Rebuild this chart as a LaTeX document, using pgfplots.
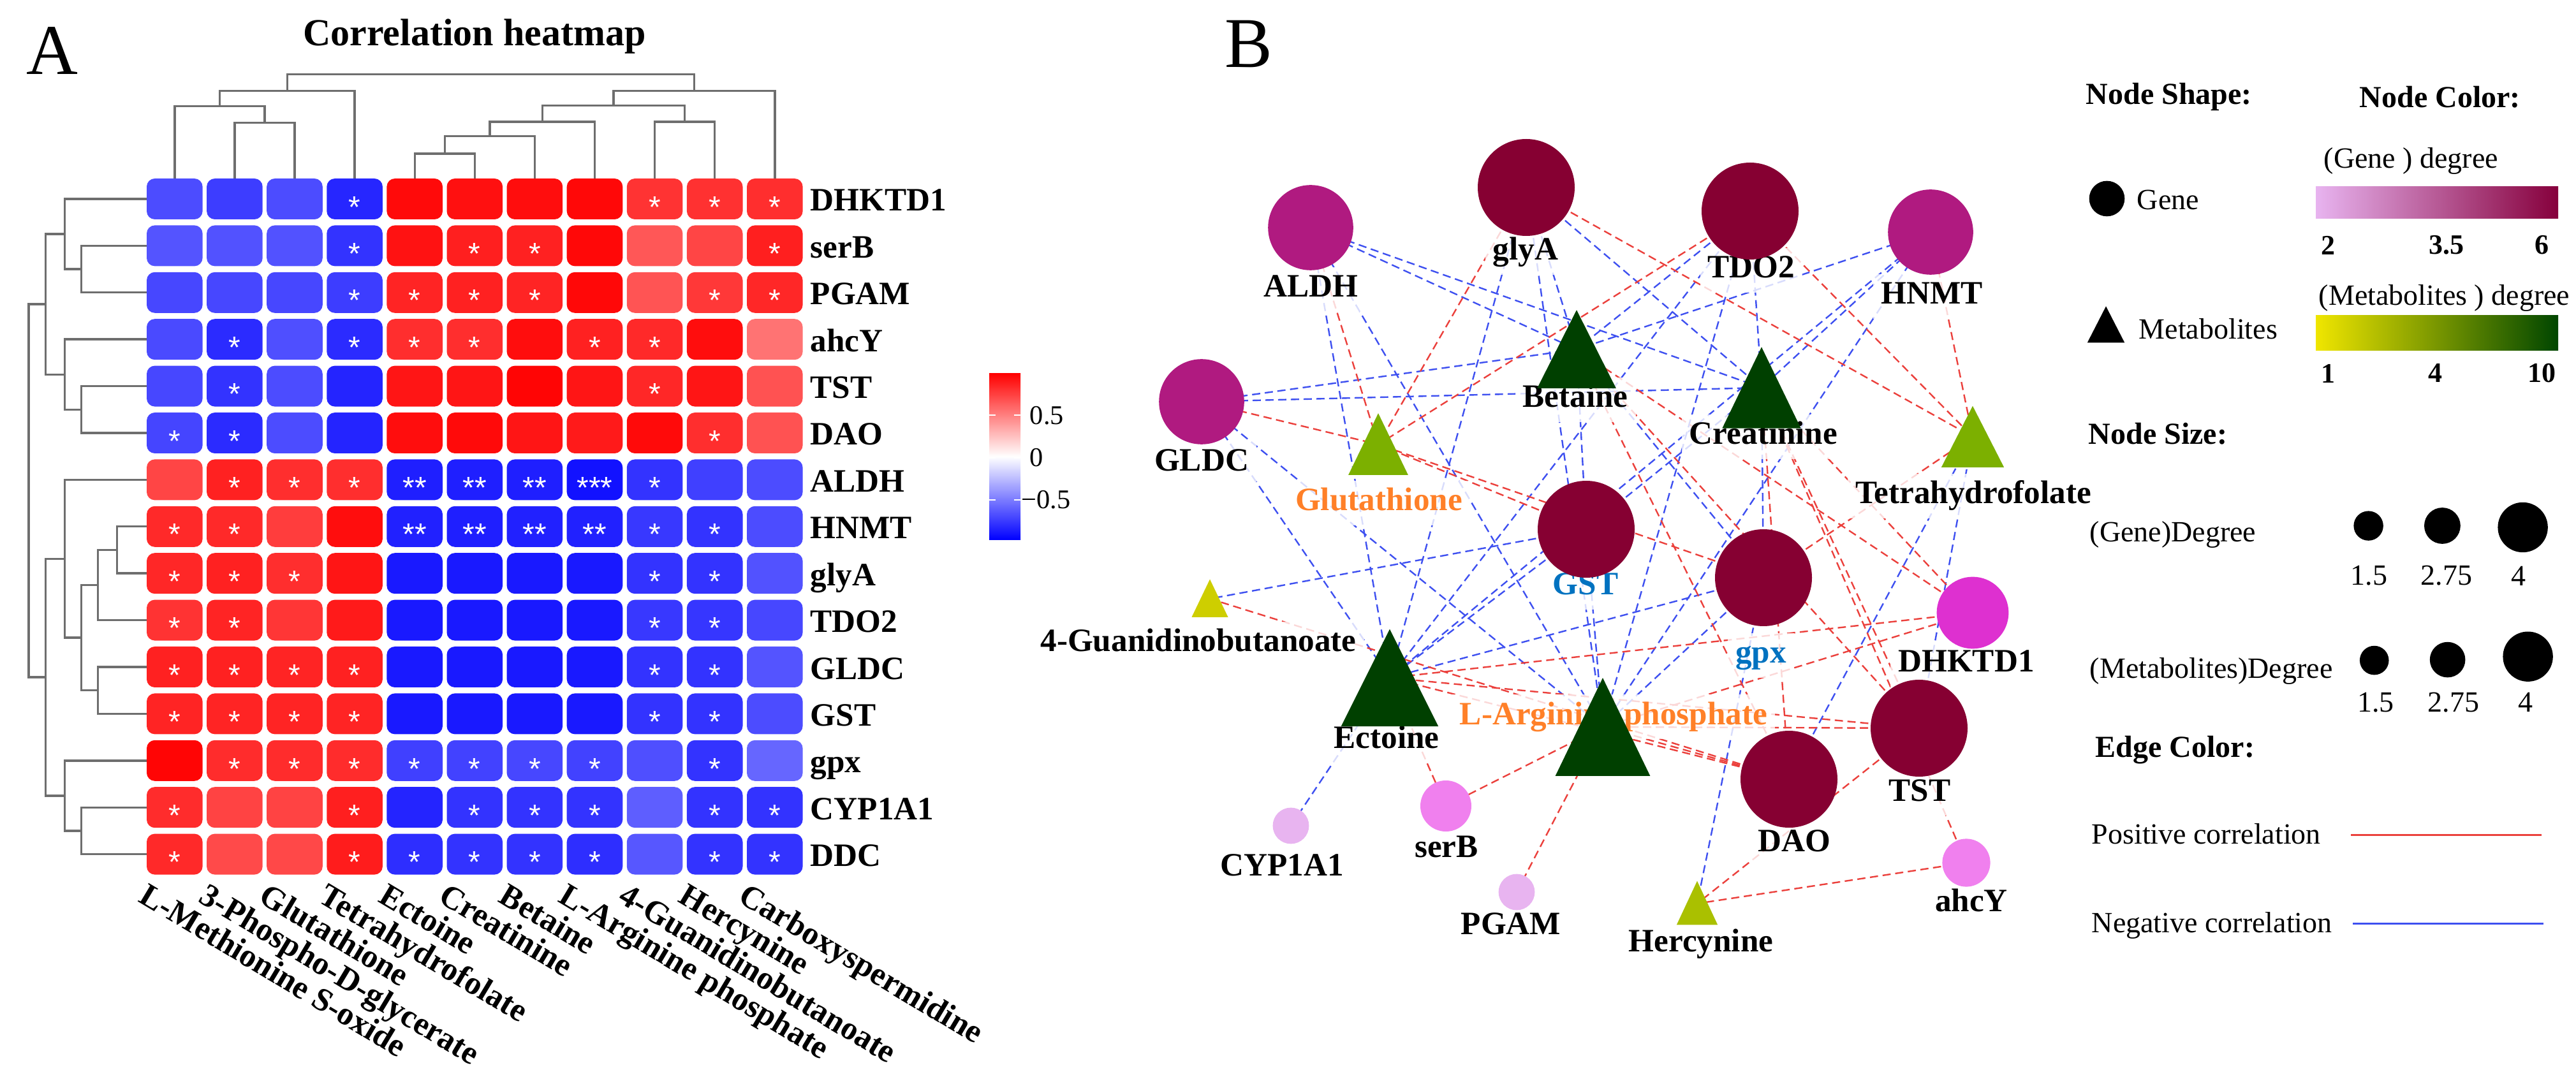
\documentclass[border=0pt]{standalone}
\usepackage{fontspec}
\setmainfont{Liberation Serif}
\newfontfamily\starfont{Liberation Sans}
\usepackage{pgfplots}
\usepackage{pgfplotstable}
\pgfplotsset{compat=1.18}

\pgfdeclareplotmark{nothing}{}

\definecolor{dendro}{RGB}{110,110,110}
\definecolor{wine}{RGB}{134,0,50}
\definecolor{plum}{RGB}{176,26,128}
\definecolor{gmag}{RGB}{222,48,208}
\definecolor{gpink}{RGB}{240,128,238}
\definecolor{lpink}{RGB}{232,180,240}
\definecolor{dgreen}{RGB}{0,64,0}
\definecolor{mgreen}{RGB}{124,176,0}
\definecolor{ygreen}{RGB}{170,192,0}
\definecolor{ylw}{RGB}{206,206,0}
\definecolor{ered}{RGB}{235,64,60}
\definecolor{eblue}{RGB}{62,80,240}
\definecolor{lorange}{RGB}{255,128,40}
\definecolor{lblue}{RGB}{0,114,192}

\newcommand\hmlab{\fontsize{12.8}{14}\selectfont\bfseries}
\newcommand\lgtxt{\fontsize{11.5}{13}\selectfont}
\newcommand\lghead{\fontsize{12}{14}\selectfont\bfseries}

\pgfplotsset{
  cell/.style={scatter, only marks, mark=nothing, point meta=explicit,
    scatter/@pre marker code/.code={%
      \pgfplotscolormapdefinemappedcolor{\pgfplotspointmetatransformed}%
      \fill[mapped color, rounded corners=3pt] (-10.75pt,-7.8pt) rectangle (10.75pt,7.8pt);},
    scatter/@post marker code/.code={}},
  dend/.style={dendro, line width=0.85pt, mark=none},
  pe/.style={ered, line width=0.6pt, dash pattern=on 3.2pt off 1.8pt, mark=none},
  ne/.style={eblue, line width=0.6pt, dash pattern=on 3.2pt off 1.8pt, mark=none},
}
\tikzset{
  nl/.style={font=\hmlab, fill=white, fill opacity=0.8, text opacity=1,
    inner sep=3pt, text height=8.8pt, text depth=2.8pt},
  cl/.style={rotate=-31, anchor=north west, font=\hmlab, inner sep=0pt},
}

% correlation matrix: rows = genes (DHKTD1 ... DDC), columns = metabolites
\pgfplotstableread{
r  c1    c2    c3    c4    c5    c6    c7    c8    c9    c10   c11
1  -0.70 -0.76 -0.70 -0.85  0.96  0.94  0.95  0.97  0.80  0.81  0.82
2  -0.67 -0.68 -0.68 -0.80  0.93  0.88  0.87  0.97  0.66  0.73  0.88
3  -0.72 -0.72 -0.72 -0.76  0.86  0.87  0.86  0.97  0.67  0.78  0.85
4  -0.71 -0.83 -0.69 -0.83  0.82  0.82  0.95  0.87  0.84  0.95  0.55
5  -0.72 -0.80 -0.70 -0.86  0.92  0.92  0.98  0.92  0.85  0.92  0.68
6  -0.73 -0.83 -0.70 -0.86  0.95  0.96  0.92  0.90  0.96  0.82  0.68
7   0.73  0.87  0.82  0.82 -0.88 -0.88 -0.88 -0.93 -0.80 -0.75 -0.70
8   0.84  0.84  0.76  0.95 -0.87 -0.88 -0.87 -0.87 -0.78 -0.80 -0.70
9   0.85  0.87  0.82  0.92 -0.90 -0.90 -0.90 -0.90 -0.80 -0.80 -0.68
10  0.80  0.86  0.79  0.90 -0.90 -0.90 -0.90 -0.90 -0.78 -0.79 -0.72
11  0.87  0.87  0.86  0.87 -0.90 -0.90 -0.90 -0.90 -0.80 -0.80 -0.67
12  0.86  0.86  0.86  0.86 -0.90 -0.90 -0.90 -0.90 -0.80 -0.80 -0.70
13  0.98  0.83  0.83  0.83 -0.75 -0.74 -0.72 -0.74 -0.69 -0.80 -0.60
14  0.83  0.74  0.74  0.88 -0.86 -0.80 -0.80 -0.80 -0.63 -0.80 -0.80
15  0.84  0.71  0.72  0.89 -0.82 -0.80 -0.80 -0.82 -0.66 -0.80 -0.80
}\hm

\pgfplotstableread{
r c s
1 4 *
1 9 *
1 10 *
1 11 *
2 4 *
2 6 *
2 7 *
2 11 *
3 4 *
3 5 *
3 6 *
3 7 *
3 10 *
3 11 *
4 2 *
4 4 *
4 5 *
4 6 *
4 8 *
4 9 *
5 2 *
5 9 *
6 1 *
6 2 *
6 10 *
7 2 *
7 3 *
7 4 *
7 5 **
7 6 **
7 7 **
7 8 ***
7 9 *
8 1 *
8 2 *
8 5 **
8 6 **
8 7 **
8 8 **
8 9 *
8 10 *
9 1 *
9 2 *
9 3 *
9 9 *
9 10 *
10 1 *
10 2 *
10 9 *
10 10 *
11 1 *
11 2 *
11 3 *
11 4 *
11 9 *
11 10 *
12 1 *
12 2 *
12 3 *
12 4 *
12 9 *
12 10 *
13 2 *
13 3 *
13 4 *
13 5 *
13 6 *
13 7 *
13 8 *
13 10 *
14 1 *
14 4 *
14 6 *
14 7 *
14 8 *
14 10 *
14 11 *
15 1 *
15 4 *
15 5 *
15 6 *
15 7 *
15 8 *
15 10 *
15 11 *
}\stars

\begin{document}
\begin{tikzpicture}
\begin{axis}[
  at={(0,0)}, anchor=south west,
  width=1009.75pt, height=425pt, scale only axis,
  xmin=0, xmax=4039, ymin=0, ymax=1700, y dir=reverse,
  hide axis, clip=false,
  colormap={bwr}{rgb255=(0,0,255) rgb255=(255,255,255) rgb255=(255,0,0)},
  point meta min=-1, point meta max=1,
]

% ---------------- panel A: heatmap cells ----------------
\addplot[cell] table[x expr=273.8,  y expr={312+73.4*(\thisrow{r}-1)}, meta=c1]  {\hm};
\addplot[cell] table[x expr=367.9,  y expr={312+73.4*(\thisrow{r}-1)}, meta=c2]  {\hm};
\addplot[cell] table[x expr=462.0,  y expr={312+73.4*(\thisrow{r}-1)}, meta=c3]  {\hm};
\addplot[cell] table[x expr=556.1,  y expr={312+73.4*(\thisrow{r}-1)}, meta=c4]  {\hm};
\addplot[cell] table[x expr=650.2,  y expr={312+73.4*(\thisrow{r}-1)}, meta=c5]  {\hm};
\addplot[cell] table[x expr=744.3,  y expr={312+73.4*(\thisrow{r}-1)}, meta=c6]  {\hm};
\addplot[cell] table[x expr=838.4,  y expr={312+73.4*(\thisrow{r}-1)}, meta=c7]  {\hm};
\addplot[cell] table[x expr=932.5,  y expr={312+73.4*(\thisrow{r}-1)}, meta=c8]  {\hm};
\addplot[cell] table[x expr=1026.6, y expr={312+73.4*(\thisrow{r}-1)}, meta=c9]  {\hm};
\addplot[cell] table[x expr=1120.7, y expr={312+73.4*(\thisrow{r}-1)}, meta=c10] {\hm};
\addplot[cell] table[x expr=1214.8, y expr={312+73.4*(\thisrow{r}-1)}, meta=c11] {\hm};

% significance stars
\addplot[only marks, mark=nothing, point meta=explicit symbolic, nodes near coords,
  nodes near coords style={anchor=base, text=white, font=\starfont\fontsize{12}{12}\selectfont,
    inner sep=0pt, yshift=-7.3pt}]
  table[x expr={273.8+94.1*(\thisrow{c}-1)}, y expr={312+73.4*(\thisrow{r}-1)}, meta=s] {\stars};

% column dendrogram
\addplot[dend] coordinates {(367.9,280.7) (367.9,192.3) (462.0,192.3) (462.0,280.7)};
\addplot[dend] coordinates {(273.8,280.7) (273.8,166.5) (415.0,166.5) (415.0,192.3)};
\addplot[dend] coordinates {(344.4,166.5) (344.4,142.4) (556.1,142.4) (556.1,280.7)};
\addplot[dend] coordinates {(650.2,280.7) (650.2,241.1) (744.3,241.1) (744.3,280.7)};
\addplot[dend] coordinates {(697.3,241.1) (697.3,213.6) (838.4,213.6) (838.4,280.7)};
\addplot[dend] coordinates {(767.8,213.6) (767.8,191.2) (932.5,191.2) (932.5,280.7)};
\addplot[dend] coordinates {(1026.6,280.7) (1026.6,191.2) (1120.7,191.2) (1120.7,280.7)};
\addplot[dend] coordinates {(850.2,191.2) (850.2,165.3) (1073.7,165.3) (1073.7,191.2)};
\addplot[dend] coordinates {(961.9,165.3) (961.9,142.4) (1214.8,142.4) (1214.8,280.7)};
\addplot[dend] coordinates {(450.3,142.4) (450.3,116.5) (1088.4,116.5) (1088.4,142.4)};

% row dendrogram
\addplot[dend] coordinates {(230.7,385.4) (127.4,385.4) (127.4,458.8) (230.7,458.8)};
\addplot[dend] coordinates {(230.7,312.0) (101.6,312.0) (101.6,422.1) (127.4,422.1)};
\addplot[dend] coordinates {(230.7,605.6) (127.4,605.6) (127.4,679.0) (230.7,679.0)};
\addplot[dend] coordinates {(230.7,532.2) (101.6,532.2) (101.6,642.3) (127.4,642.3)};
\addplot[dend] coordinates {(101.6,367.1) (71.5,367.1) (71.5,587.3) (101.6,587.3)};
\addplot[dend] coordinates {(230.7,825.8) (183.4,825.8) (183.4,899.2) (230.7,899.2)};
\addplot[dend] coordinates {(183.4,862.5) (153.2,862.5) (153.2,972.6) (230.7,972.6)};
\addplot[dend] coordinates {(230.7,1046.0) (153.2,1046.0) (153.2,1119.4) (230.7,1119.4)};
\addplot[dend] coordinates {(153.2,917.6) (127.4,917.6) (127.4,1082.7) (153.2,1082.7)};
\addplot[dend] coordinates {(230.7,752.4) (101.6,752.4) (101.6,1000.1) (127.4,1000.1)};
\addplot[dend] coordinates {(230.7,1266.2) (127.4,1266.2) (127.4,1339.6) (230.7,1339.6)};
\addplot[dend] coordinates {(230.7,1192.8) (101.6,1192.8) (101.6,1302.9) (127.4,1302.9)};
\addplot[dend] coordinates {(101.6,876.3) (71.5,876.3) (71.5,1247.9) (101.6,1247.9)};
\addplot[dend] coordinates {(71.5,477.2) (44.8,477.2) (44.8,1062.1) (71.5,1062.1)};

% row labels
\node[anchor=base west, font=\hmlab, inner sep=0pt] at (axis cs:1270,331.0)  {DHKTD1};
\node[anchor=base west, font=\hmlab, inner sep=0pt] at (axis cs:1270,404.4)  {serB};
\node[anchor=base west, font=\hmlab, inner sep=0pt] at (axis cs:1270,477.8)  {PGAM};
\node[anchor=base west, font=\hmlab, inner sep=0pt] at (axis cs:1270,551.2)  {ahcY};
\node[anchor=base west, font=\hmlab, inner sep=0pt] at (axis cs:1270,624.6)  {TST};
\node[anchor=base west, font=\hmlab, inner sep=0pt] at (axis cs:1270,698.0)  {DAO};
\node[anchor=base west, font=\hmlab, inner sep=0pt] at (axis cs:1270,771.4)  {ALDH};
\node[anchor=base west, font=\hmlab, inner sep=0pt] at (axis cs:1270,844.8)  {HNMT};
\node[anchor=base west, font=\hmlab, inner sep=0pt] at (axis cs:1270,918.2)  {glyA};
\node[anchor=base west, font=\hmlab, inner sep=0pt] at (axis cs:1270,991.6)  {TDO2};
\node[anchor=base west, font=\hmlab, inner sep=0pt] at (axis cs:1270,1065.0) {GLDC};
\node[anchor=base west, font=\hmlab, inner sep=0pt] at (axis cs:1270,1138.4) {GST};
\node[anchor=base west, font=\hmlab, inner sep=0pt] at (axis cs:1270,1211.8) {gpx};
\node[anchor=base west, font=\hmlab, inner sep=0pt] at (axis cs:1270,1285.2) {CYP1A1};
\node[anchor=base west, font=\hmlab, inner sep=0pt] at (axis cs:1270,1358.6) {DDC};

% column labels
\node[cl] at (axis cs:234,1382)  {L-Methionine S-oxide};
\node[cl] at (axis cs:328,1382)  {3-Phospho-D-glycerate};
\node[cl] at (axis cs:422,1382)  {Glutathione};
\node[cl] at (axis cs:516,1382)  {Tetrahydrofolate};
\node[cl] at (axis cs:610,1382)  {Ectoine};
\node[cl] at (axis cs:704,1382)  {Creatinine};
\node[cl] at (axis cs:798,1382)  {Betaine};
\node[cl] at (axis cs:892,1382)  {L-Arginine phosphate};
\node[cl] at (axis cs:986,1382)  {4-Guanidinobutanoate};
\node[cl] at (axis cs:1080,1382) {Hercynine};
\node[cl] at (axis cs:1174,1382) {Carboxyspermidine};

% title and panel letters
\node[font=\fontsize{15}{17}\selectfont\bfseries] at (axis cs:744,57) {Correlation heatmap};
\node[font=\fontsize{28}{30}\selectfont] at (axis cs:82,80) {A};
\node[font=\fontsize{28}{30}\selectfont] at (axis cs:1958,69) {B};

% heatmap colour bar
\shade[top color=red, bottom color=blue, middle color=white] (axis cs:1551,585.5) rectangle (axis cs:1600,846.7);
\draw[white, line width=0.5pt] (axis cs:1551,651.5) -- (axis cs:1561,651.5) (axis cs:1590,651.5) -- (axis cs:1600,651.5);
\draw[white, line width=0.5pt] (axis cs:1551,717.6) -- (axis cs:1561,717.6) (axis cs:1590,717.6) -- (axis cs:1600,717.6);
\draw[white, line width=0.5pt] (axis cs:1551,783.6) -- (axis cs:1561,783.6) (axis cs:1590,783.6) -- (axis cs:1600,783.6);
\node[anchor=west, inner sep=0pt, font=\fontsize{10.6}{12}\selectfont] at (axis cs:1614,651.5) {0.5};
\node[anchor=west, inner sep=0pt, font=\fontsize{10.6}{12}\selectfont] at (axis cs:1614,717.6) {0};
\node[anchor=west, inner sep=0pt, font=\fontsize{10.6}{12}\selectfont] at (axis cs:1601,783.6) {−0.5};

% ---------------- panel B: network edges ----------------
% negative correlations
\addplot[ne] coordinates {(2055,357) (2472,548)};
\addplot[ne] coordinates {(2055,357) (2762,608)};
\addplot[ne] coordinates {(2055,357) (2179,1063)};
\addplot[ne] coordinates {(2055,357) (2513,1140)};
\addplot[ne] coordinates {(2393,294) (2472,548)};
\addplot[ne] coordinates {(2393,294) (2762,608)};
\addplot[ne] coordinates {(2393,294) (2179,1063)};
\addplot[ne] coordinates {(2393,294) (2513,1140)};
\addplot[ne] coordinates {(1884,630) (2472,548)};
\addplot[ne] coordinates {(1884,630) (2762,608)};
\addplot[ne] coordinates {(1884,630) (2179,1063)};
\addplot[ne] coordinates {(1884,630) (2513,1140)};
\addplot[ne] coordinates {(2744,331) (2472,548)};
\addplot[ne] coordinates {(2744,331) (2762,608)};
\addplot[ne] coordinates {(2744,331) (2179,1063)};
\addplot[ne] coordinates {(2744,331) (2513,1140)};
\addplot[ne] coordinates {(3027,364) (2472,548)};
\addplot[ne] coordinates {(3027,364) (2762,608)};
\addplot[ne] coordinates {(3027,364) (2179,1063)};
\addplot[ne] coordinates {(3027,364) (2513,1140)};
\addplot[ne] coordinates {(2487,830) (2472,548)};
\addplot[ne] coordinates {(2487,830) (2762,608)};
\addplot[ne] coordinates {(2487,830) (2179,1063)};
\addplot[ne] coordinates {(2487,830) (2513,1140)};
\addplot[ne] coordinates {(2487,830) (1897,939)};
\addplot[ne] coordinates {(2765,906) (2472,548)};
\addplot[ne] coordinates {(2765,906) (2762,608)};
\addplot[ne] coordinates {(2765,906) (2179,1063)};
\addplot[ne] coordinates {(2765,906) (2513,1140)};
\addplot[ne] coordinates {(2765,906) (2661,1417)};
\addplot[ne] coordinates {(2024,1295) (2179,1063)};
\addplot[ne] coordinates {(3009,1142) (3093,685)};
\addplot[ne] coordinates {(2805,1222) (3093,685)};
% positive correlations
\addplot[pe] coordinates {(2055,357) (2161,697)};
\addplot[pe] coordinates {(2393,294) (2161,697)};
\addplot[pe] coordinates {(1884,630) (2161,697)};
\addplot[pe] coordinates {(2744,331) (2161,697)};
\addplot[pe] coordinates {(2487,830) (2161,697)};
\addplot[pe] coordinates {(2765,906) (2161,697)};
\addplot[pe] coordinates {(2393,294) (3093,685)};
\addplot[pe] coordinates {(2744,331) (3093,685)};
\addplot[pe] coordinates {(3027,364) (3093,685)};
\addplot[pe] coordinates {(2765,906) (3093,685)};
\addplot[pe] coordinates {(3093,961) (2472,548)};
\addplot[pe] coordinates {(3093,961) (2762,608)};
\addplot[pe] coordinates {(3093,961) (2179,1063)};
\addplot[pe] coordinates {(3093,961) (2513,1140)};
\addplot[pe] coordinates {(3009,1142) (2472,548)};
\addplot[pe] coordinates {(3009,1142) (2762,608)};
\addplot[pe] coordinates {(3009,1142) (2179,1063)};
\addplot[pe] coordinates {(3009,1142) (2513,1140)};
\addplot[pe] coordinates {(3009,1142) (2661,1417)};
\addplot[pe] coordinates {(2805,1222) (2472,548)};
\addplot[pe] coordinates {(2805,1222) (2762,608)};
\addplot[pe] coordinates {(2805,1222) (2179,1063)};
\addplot[pe] coordinates {(2805,1222) (2513,1140)};
\addplot[pe] coordinates {(2805,1222) (1897,939)};
\addplot[pe] coordinates {(2267,1264) (2179,1063)};
\addplot[pe] coordinates {(2267,1264) (2513,1140)};
\addplot[pe] coordinates {(2378,1399) (2513,1140)};
\addplot[pe] coordinates {(3083,1353) (2661,1417)};
\addplot[pe] coordinates {(3083,1353) (2762,608)};

% ---------------- network nodes ----------------
% genes (circles, size ~ degree)
\addplot[only marks, mark=*, wine, mark size=18.8pt, mark options={draw=none}]
  coordinates {(2393,294) (2744,331) (2487,830) (2765,906) (3009,1142) (2805,1222)};
\addplot[only marks, mark=*, plum, mark size=16.5pt, mark options={draw=none}]
  coordinates {(2055,357) (3027,364) (1884,630)};
\addplot[only marks, mark=*, gmag, mark size=13.9pt, mark options={draw=none}] coordinates {(3093,961)};
\addplot[only marks, mark=*, gpink, mark size=9.8pt, mark options={draw=none}] coordinates {(2267,1264)};
\addplot[only marks, mark=*, gpink, mark size=9.2pt, mark options={draw=none}] coordinates {(3083,1353)};
\addplot[only marks, mark=*, lpink, mark size=6.9pt, mark options={draw=none}]
  coordinates {(2024,1295) (2378,1399)};
% metabolites (triangles)
\addplot[only marks, mark=triangle*, dgreen, mark size=25pt,   mark options={draw=none, xscale=0.866}] coordinates {(2179,1088.4)};
\addplot[only marks, mark=triangle*, dgreen, mark size=25.2pt, mark options={draw=none, xscale=0.837}] coordinates {(2513,1165.7)};
\addplot[only marks, mark=triangle*, dgreen, mark size=20pt,   mark options={draw=none, xscale=0.873}] coordinates {(2472,568)};
\addplot[only marks, mark=triangle*, dgreen, mark size=20.8pt, mark options={draw=none, xscale=0.838}] coordinates {(2762,629.3)};
\addplot[only marks, mark=triangle*, mgreen, mark size=15.7pt, mark options={draw=none, xscale=0.838}] coordinates {(2161,712.7)};
\addplot[only marks, mark=triangle*, mgreen, mark size=15.6pt, mark options={draw=none, xscale=0.884}] coordinates {(3093,700.8)};
\addplot[only marks, mark=triangle*, ygreen, mark size=11pt,   mark options={draw=none, xscale=0.81}]  coordinates {(2661,1427.5)};
\addplot[only marks, mark=triangle*, ylw,    mark size=9.45pt, mark options={draw=none, xscale=0.832}] coordinates {(1897,948.1)};

% node labels
\node[nl] at (axis cs:2055,454)  {ALDH};
\node[nl] at (axis cs:2392,396)  {glyA};
\node[nl] at (axis cs:1884,727)  {GLDC};
\node[nl] at (axis cs:2746,424)  {TDO2};
\node[nl] at (axis cs:3029,465)  {HNMT};
\node[nl, text=lblue] at (axis cs:2486,921)  {GST};
\node[nl, text=lblue] at (axis cs:2761,1028) {gpx};
\node[nl] at (axis cs:3083,1042) {DHKTD1};
\node[nl] at (axis cs:3010,1244) {TST};
\node[nl] at (axis cs:2813,1323) {DAO};
\node[nl] at (axis cs:3091,1417) {ahcY};
\node[nl] at (axis cs:2268,1332) {serB};
\node[nl] at (axis cs:2010,1361) {CYP1A1};
\node[nl] at (axis cs:2369,1453) {PGAM};
\node[nl] at (axis cs:2470,627)  {Betaine};
\node[nl] at (axis cs:2765,685)  {Creatinine};
\node[nl, text=lorange] at (axis cs:2162,789) {Glutathione};
\node[nl] at (axis cs:3094,778)  {Tetrahydrofolate};
\node[nl] at (axis cs:1879,1010) {4-Guanidinobutanoate};
\node[nl] at (axis cs:2174,1162) {Ectoine};
\node[nl, text=lorange] at (axis cs:2530,1124) {L-Arginine phosphate};
\node[nl] at (axis cs:2667,1480) {Hercynine};

% ---------------- network legend ----------------
\node[anchor=west, font=\lghead, inner sep=0pt] at (axis cs:3270,152) {Node Shape:};
\node[anchor=west, font=\lghead, inner sep=0pt] at (axis cs:3699,152) {Node Color:};
\addplot[only marks, mark=*, black, mark size=6.75pt, mark options={draw=none}] coordinates {(3303.5,311.5)};
\node[anchor=west, font=\lgtxt, inner sep=0pt] at (axis cs:3350,314) {Gene};
\addplot[only marks, mark=triangle*, black, mark size=9.1pt, mark options={draw=none, xscale=0.887}] coordinates {(3302,518.5)};
\node[anchor=west, font=\lgtxt, inner sep=0pt] at (axis cs:3353,516) {Metabolites};

\node[anchor=west, font=\lgtxt, inner sep=0pt] at (axis cs:3643,253) {(Gene ) degree};
\shade[left color=lpink, middle color={rgb,255:red,245;green,45;blue,245}, right color={rgb,255:red,134;green,0;blue,60}]
  (axis cs:3631,292.8) rectangle (axis cs:4011,342.7);
\node[font=\fontsize{11}{12}\selectfont\bfseries, inner sep=0pt] at (axis cs:3650.5,384.6) {2};
\node[font=\fontsize{11}{12}\selectfont\bfseries, inner sep=0pt] at (axis cs:3835.8,384.6) {3.5};
\node[font=\fontsize{11}{12}\selectfont\bfseries, inner sep=0pt] at (axis cs:3985,384.6) {6};

\node[anchor=west, font=\lgtxt, inner sep=0pt] at (axis cs:3635,468) {(Metabolites ) degree};
\shade[left color={rgb,255:red,240;green,230;blue,0}, middle color={rgb,255:red,128;green,178;blue,0}, right color={rgb,255:red,0;green,70;blue,0}]
  (axis cs:3631,494.8) rectangle (axis cs:4011,550);
\node[font=\fontsize{11}{12}\selectfont\bfseries, inner sep=0pt] at (axis cs:3650.5,585.5) {1};
\node[font=\fontsize{11}{12}\selectfont\bfseries, inner sep=0pt] at (axis cs:3818.7,585.5) {4};
\node[font=\fontsize{11}{12}\selectfont\bfseries, inner sep=0pt] at (axis cs:3985,585.5) {10};

\node[anchor=west, font=\lghead, inner sep=0pt] at (axis cs:3274,680) {Node Size:};
\node[anchor=west, font=\lgtxt, inner sep=0pt] at (axis cs:3276,839) {(Gene)Degree};
\addplot[only marks, mark=*, black, mark size=5.6pt, mark options={draw=none}] coordinates {(3713.6,824.6)};
\addplot[only marks, mark=*, black, mark size=6.9pt, mark options={draw=none}] coordinates {(3829.4,824.5)};
\addplot[only marks, mark=*, black, mark size=9.6pt, mark options={draw=none}] coordinates {(3955.6,827)};
\node[font=\lgtxt, inner sep=0pt] at (axis cs:3714.5,903) {1.5};
\node[font=\lgtxt, inner sep=0pt] at (axis cs:3835.8,903) {2.75};
\node[font=\lgtxt, inner sep=0pt] at (axis cs:3948.5,903) {4};

\node[anchor=west, font=\lgtxt, inner sep=0pt] at (axis cs:3276,1052.6) {(Metabolites)Degree};
\addplot[only marks, mark=*, black, mark size=5.5pt, mark options={draw=none}] coordinates {(3722.7,1035.6)};
\addplot[only marks, mark=*, black, mark size=6.75pt, mark options={draw=none}] coordinates {(3837.6,1034.6)};
\addplot[only marks, mark=*, black, mark size=9.6pt, mark options={draw=none}] coordinates {(3963.6,1029.7)};
\node[font=\lgtxt, inner sep=0pt] at (axis cs:3724.8,1101.4) {1.5};
\node[font=\lgtxt, inner sep=0pt] at (axis cs:3846.9,1101.4) {2.75};
\node[font=\lgtxt, inner sep=0pt] at (axis cs:3959.6,1101.4) {4};

\node[anchor=west, font=\lghead, inner sep=0pt] at (axis cs:3285,1176) {Edge Color:};
\node[anchor=west, font=\lgtxt, inner sep=0pt] at (axis cs:3279,1308) {Positive correlation};
\draw[ered, line width=0.75pt] (axis cs:3686,1309.8) -- (axis cs:3985,1309.8);
\node[anchor=west, font=\lgtxt, inner sep=0pt] at (axis cs:3279,1451.5) {Negative correlation};
\draw[eblue, line width=0.75pt] (axis cs:3689,1448.7) -- (axis cs:3988,1448.7);

\end{axis}
\pgfresetboundingbox
\path (current axis.south west) rectangle (current axis.north east);
\end{tikzpicture}
\end{document}
